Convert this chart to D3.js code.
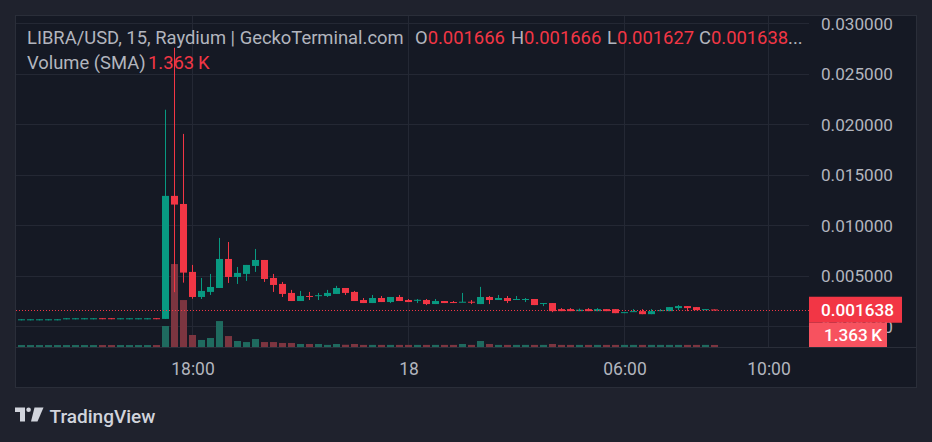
<!DOCTYPE html>
<html><head><meta charset="utf-8">
<script src="https://cdn.jsdelivr.net/npm/d3@7"></script>
<style>html,body{margin:0;padding:0;background:#1f222d;}svg{display:block}</style>
</head><body><svg id="c" width="932" height="442"></svg>
<script>
// ---------------- DATA ----------------
const startTime = "2025-02-17T13:15:00";   // time of first 15-minute candle
const intervalMinutes = 15;
const open  = [0.000690,0.000690,0.000690,0.000690,0.000690,0.000790,0.000790,0.000790,0.000790,0.000800,0.000800,0.000790,0.000790,0.000790,0.000790,0.000800,
  0.00073,0.0129,0.0121,0.00538,0.0029,0.0034,0.00379,0.00666,0.00488,0.00518,0.00597,0.00656,0.00478,0.00419,0.0033,0.0025,0.00300,0.00302,0.0030,0.0032,
  0.00379,0.0034,0.0026,0.0023,0.0028,0.0024,0.0029,0.0026,0.0026,0.0026,0.0022,0.0025,0.0024,0.0024,0.00243,0.0022,0.0029,0.0026,0.0028,0.00268,0.00268,0.0027,0.00228,0.0023,
  0.0017,0.0017,0.0015,0.0017,0.0015,0.0017,0.0017,0.00138,0.00148,0.0015,0.0012,0.0015,0.0015,0.0018,0.0020,0.0019,0.00168,0.001666];
const high  = [0.000692,0.000692,0.000692,0.000692,0.000692,0.000792,0.000792,0.000792,0.000792,0.000800,0.000800,0.000792,0.000792,0.000792,0.000792,0.000800,
  0.02142,0.02755,0.01903,0.00607,0.00478,0.00518,0.00874,0.00834,0.00587,0.00607,0.00765,0.00656,0.00518,0.00439,0.0036,0.0035,0.0034,0.0033,0.0036,0.0040,
  0.00379,0.0035,0.0028,0.0031,0.0030,0.0029,0.0031,0.0027,0.0027,0.0027,0.0027,0.0025,0.0025,0.0033,0.0026,0.0039,0.0030,0.0031,0.0030,0.0030,0.0028,0.0027,0.0023,0.0023,
  0.0018,0.0018,0.00175,0.0018,0.0018,0.0017,0.0017,0.0014,0.0017,0.0017,0.0017,0.0017,0.0019,0.0021,0.0020,0.0019,0.0017,0.001666];
const low   = [0.000690,0.000690,0.000690,0.000690,0.000690,0.000790,0.000790,0.000790,0.000790,0.000790,0.000790,0.000790,0.000790,0.000790,0.000790,0.000790,
  0.00073,0.00338,0.00432,0.00273,0.0027,0.0031,0.00379,0.00429,0.00419,0.00449,0.00538,0.00439,0.0034,0.0029,0.0025,0.0025,0.0026,0.0026,0.0029,0.0032,
  0.0031,0.0025,0.0023,0.0023,0.0024,0.0023,0.0025,0.0024,0.0023,0.0021,0.0022,0.0023,0.0023,0.0024,0.0022,0.0022,0.0022,0.0026,0.0023,0.00268,0.0024,0.0021,0.0020,0.0014,
  0.0015,0.0015,0.0015,0.0015,0.0015,0.0015,0.0013,0.00138,0.00148,0.0012,0.0012,0.0015,0.0015,0.0016,0.0015,0.0016,0.00168,0.001627];
const close = [0.000692,0.000692,0.000692,0.000692,0.000692,0.000792,0.000792,0.000792,0.000792,0.000790,0.000790,0.000792,0.000792,0.000792,0.000792,0.000790,
  0.0129,0.01204,0.00531,0.0029,0.0035,0.00389,0.00666,0.00488,0.00528,0.00607,0.00656,0.00468,0.00409,0.0032,0.0025,0.0030,0.00295,0.00308,0.0033,0.00379,
  0.0033,0.0025,0.0023,0.0028,0.0024,0.0029,0.0025,0.0024,0.00262,0.0022,0.0025,0.0023,0.00235,0.00243,0.0024,0.0029,0.0026,0.0028,0.0025,0.0027,0.0027,0.0021,0.0023,0.0015,
  0.0015,0.0015,0.00164,0.0015,0.0017,0.0015,0.0013,0.0014,0.0015,0.0012,0.0015,0.0016,0.0019,0.0020,0.0018,0.0016,0.0017,0.001638];
const volumeK = [1.3,1.3,1.3,1.3,1.3,1.3,1.3,1.3,1.3,1.3,1.3,1.3,1.3,1.3,1.3,1.3,
  14.0,55.3,31.3,8.0,4.7,6.0,17.3,7.3,4.0,3.3,5.3,3.3,3.3,2.7,2.7,2.0,2.0,2.0,1.4,2.0,
  1.5,2.0,1.4,1.4,1.4,1.4,1.4,1.4,1.4,1.4,1.4,1.4,1.4,2.0,1.4,4.0,2.0,1.4,1.4,1.4,1.4,1.4,1.4,2.0,
  1.4,1.4,1.4,1.4,1.4,1.4,1.4,1.4,1.4,1.4,1.4,1.4,1.4,1.4,1.4,1.4,1.4,1.363];
const priceTicks = [0, 0.005, 0.010, 0.015, 0.020, 0.025, 0.030];
const timeTicks = ["2025-02-17T18:00:00","2025-02-18T00:00:00","2025-02-18T06:00:00","2025-02-18T10:00:00"];
const timeTickLabels = ["18:00","18","06:00","10:00"];
const viewStart = "2025-02-17T13:04:10", viewEnd = "2025-02-18T11:07:30";
const legendTitle = "LIBRA/USD, 15, Raydium | GeckoTerminal.com";
const volumeLabel = "Volume (SMA)";

// ---------------- STYLE ----------------
const UP = "#089981", DOWN = "#f23645";
const UPV = "#1f6a5f", DOWNV = "#7c3540";
const TXT = "#b2b5be", GRID = "#242834", BORDER = "#2a2e39";
const FONT = "Roboto, 'Noto Sans', sans-serif";

const svg = d3.select("#c");
const W = 932, H = 442;
const L = 15, R = 809, T = 15, RB = 917, PB = 347, TB = 388;

svg.append("rect").attr("width", W).attr("height", H).attr("fill", "#1f222d");
svg.append("rect").attr("x", L + 0.5).attr("y", T + 0.5).attr("width", RB - L - 1).attr("height", TB - T - 1)
  .attr("fill", "#151924").attr("stroke", BORDER);

// measurement helper
function fitSize(text, target, weight) {
  const t = svg.append("text").attr("font-family", FONT).attr("font-size", 20)
    .attr("font-weight", weight || 400).text(text);
  const w = t.node().getComputedTextLength(); t.remove();
  return 20 * target / w;
}

const parse = d3.isoParse;
const times = open.map((_, i) => new Date(parse(startTime).getTime() + i * intervalMinutes * 60000));
const data = times.map((t, i) => ({t, o: open[i], h: high[i], l: low[i], c: close[i], v: volumeK[i]}));

const x = d3.scaleTime().domain([parse(viewStart), parse(viewEnd)]).range([L, R]);
const y = d3.scaleLinear().domain([0, 0.030]).range([326.3, 23]);
const yv = d3.scaleLinear().domain([0, 60]).range([PB, PB - 90]);

svg.append("clipPath").attr("id", "plot").append("rect")
  .attr("x", L + 1).attr("y", T + 1).attr("width", R - L - 1).attr("height", PB - T - 1);

// grid
const grid = svg.append("g");
grid.selectAll(".hg").data(priceTicks).join("line")
  .attr("x1", L + 1).attr("x2", R).attr("y1", d => Math.round(y(d)) + 0.5).attr("y2", d => Math.round(y(d)) + 0.5)
  .attr("stroke", GRID);
grid.selectAll(".vg").data(timeTicks).join("line")
  .attr("x1", d => Math.floor(x(parse(d))) + 0.5).attr("x2", d => Math.floor(x(parse(d))) + 0.5)
  .attr("y1", T + 1).attr("y2", PB).attr("stroke", GRID);

// separator between plot and time axis
svg.append("line").attr("x1", L + 1).attr("x2", RB - 1).attr("y1", PB + 0.5).attr("y2", PB + 0.5).attr("stroke", BORDER);

const plot = svg.append("g").attr("clip-path", "url(#plot)");
const bw = 7;
// volume
plot.selectAll(".vol").data(data).join("rect")
  .attr("x", d => x(d.t) - bw / 2).attr("width", bw)
  .attr("y", d => yv(d.v)).attr("height", d => PB - yv(d.v))
  .attr("fill", d => d.c >= d.o ? UPV : DOWNV);
// wicks
plot.selectAll(".wick").data(data).join("rect")
  .attr("x", d => x(d.t) - 0.5).attr("width", 1)
  .attr("y", d => y(d.h)).attr("height", d => Math.max(1, y(d.l) - y(d.h)))
  .attr("fill", d => d.c >= d.o ? UP : DOWN);
// bodies
plot.selectAll(".body").data(data).join("rect")
  .attr("x", d => x(d.t) - bw / 2).attr("width", bw)
  .attr("y", d => y(Math.max(d.o, d.c))).attr("height", d => Math.max(1, Math.abs(y(d.o) - y(d.c))))
  .attr("fill", d => d.c >= d.o ? UP : DOWN);

// last price line (dotted)
const last = data[data.length - 1];
svg.append("line").attr("x1", L + 1).attr("x2", R).attr("y1", Math.round(y(last.c)) + 0.5).attr("y2", Math.round(y(last.c)) + 0.5)
  .attr("stroke", DOWN).attr("stroke-width", 1).attr("stroke-dasharray", "1,2");

// axes
const axFs = fitSize("0.030000", 72);
const yAxis = d3.axisRight(y).tickValues(priceTicks).tickFormat(d3.format(".6f")).tickSize(0).tickPadding(12);
const gy = svg.append("g").attr("transform", `translate(${R},0)`).call(yAxis);
gy.select(".domain").remove();
gy.selectAll("text").attr("fill", TXT).attr("font-family", FONT).attr("font-size", axFs).attr("dy", "0.35em");

const tFs = fitSize("18:00", 43.5);
const xAxis = d3.axisBottom(x).tickValues(timeTicks.map(parse)).tickFormat((d, i) => timeTickLabels[i]).tickSize(0).tickPadding(0);
const gx = svg.append("g").attr("transform", `translate(0,${PB})`).call(xAxis);
gx.select(".domain").remove();
gx.selectAll("text").attr("fill", TXT).attr("font-family", FONT).attr("font-size", tFs).attr("dy", null).attr("y", 28);

// price label boxes
const ly = y(last.c);
svg.append("rect").attr("x", R).attr("y", ly - 13).attr("width", 93).attr("height", 26).attr("fill", DOWN);
svg.append("text").attr("x", R + 12).attr("y", ly).attr("dy", "0.35em").attr("fill", "#ffffff")
  .attr("font-family", FONT).attr("font-size", axFs).attr("font-weight", 500).text(d3.format(".6f")(last.c));
svg.append("rect").attr("x", R).attr("y", ly + 13).attr("width", 78).attr("height", PB - (ly + 13)).attr("fill", "#f7525f");
svg.append("text").attr("x", R + 15).attr("y", (ly + 13 + PB) / 2).attr("dy", "0.35em").attr("fill", "#ffffff")
  .attr("font-family", FONT).attr("font-size", axFs).attr("font-weight", 500).text(last.v.toFixed(3) + "\u2009K");

// legend
const lgFs = fitSize(legendTitle, 377);
const lg = svg.append("g").attr("font-family", FONT).attr("font-size", lgFs);
lg.append("text").attr("x", 27).attr("y", 44).attr("fill", TXT).text(legendTitle);
const f6 = d3.format(".6f");
const ohlc = [["O", last.o, 415], ["H", last.h, 511], ["L", last.l, 607], ["C", last.c, 699]];
ohlc.forEach(([k, v, px]) => {
  const t = lg.append("text").attr("x", px).attr("y", 44);
  t.append("tspan").attr("fill", TXT).text(k);
  t.append("tspan").attr("fill", DOWN).text(f6(v));
  if (k === "C") t.append("tspan").attr("fill", TXT).text("...");
});
lg.append("text").attr("x", 27).attr("y", 69).attr("fill", TXT).text(volumeLabel);
lg.append("text").attr("x", 148).attr("y", 69).attr("fill", DOWN).text(last.v.toFixed(3) + "\u2009K");

// TradingView logo
const logo = svg.append("g").attr("fill", "#d1d4dc");
logo.append("path").attr("d", "M15,407.5 H25 V421.5 H20 V412 H15 Z");
logo.append("circle").attr("cx", 28.6).attr("cy", 409.7).attr("r", 2.3);
logo.append("path").attr("d", "M34.5,407.5 H43.5 L37.5,421.5 H31 Z");
const tvFs = fitSize("TradingView", 106, 500);
svg.append("text").attr("x", 49.5).attr("y", 423).attr("fill", "#d1d4dc").attr("font-family", FONT)
  .attr("font-size", tvFs).attr("font-weight", 500).text("TradingView");
</script></body></html>
